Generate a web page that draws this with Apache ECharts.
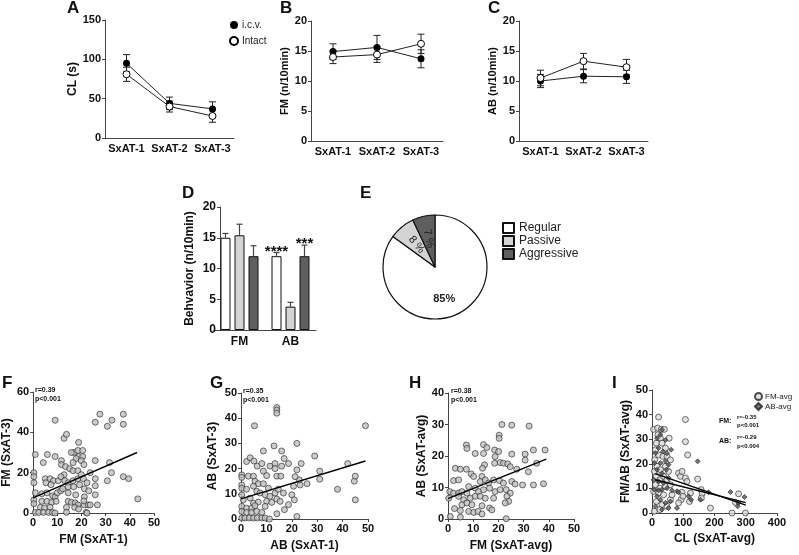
<!DOCTYPE html>
<html><head><meta charset="utf-8">
<script src="https://cdn.jsdelivr.net/npm/echarts@6/dist/echarts.min.js"></script>
<style>html,body{margin:0;padding:0;background:#fff}#c{width:799px;height:555px}</style>
</head><body><div id="c"></div>
<script>
const FONT = 'Liberation Sans, Arial, sans-serif';

// ---- Panels A-C: sessions ----
const sessions = ['SxAT-1', 'SxAT-2', 'SxAT-3'];
const clIcv = [95, 44, 37];
const clIcvErr = [11, 8, 9];
const clIntact = [81, 40, 28];
const clIntactErr = [9, 7, 8];
const starsA = [[1, 57], [2, 48]];
const fmIcv = [14.9, 15.6, 13.7];
const fmIcvErr = [1.3, 2.0, 1.5];
const fmIntact = [14.0, 14.4, 16.2];
const fmIntactErr = [1.1, 1.3, 1.6];
const abIcv = [10.0, 10.8, 10.7];
const abIcvErr = [1.1, 1.1, 1.1];
const abIntact = [10.5, 13.3, 12.3];
const abIntactErr = [1.3, 1.3, 1.3];

// ---- Panel D ----
const behavCats = ['FM', 'AB'];
const regularVals = [15.0, 12.0];
const regularErr = [0.7, 0.6];
const passiveVals = [15.4, 3.8];
const passiveErr = [1.8, 0.7];
const aggressiveVals = [12.0, 12.0];
const aggressiveErr = [1.7, 1.8];
const starsD = [[1, 12.7, 0], [1, 14.0, 2]];
const starsDText = ['****', '***'];

// ---- Panel E ----
const pieNames = ['Regular', 'Passive', 'Aggressive'];
const pieValues = [85, 8, 7];

// ---- Panel F: FM SxAT-1 vs FM SxAT-3 ----
const fPoints = [[27.6,49],[37.3,49],[9.1,46],[25.7,45],[32.6,46],[30.7,43],[37.3,44],[12.8,37],[13.8,39],[18.8,35],[0.9,29],[5.9,29],[9.1,28],[11.7,26],[11.7,24],[4.2,25],[16.9,30],[18.5,31],[20.5,31],[15.8,30],[18.8,28],[20.5,28],[17.8,27],[19.9,26],[16.5,25],[25.7,26],[31.6,25],[21,24],[13.4,23],[15.1,22],[16.5,21],[18.5,21],[23.6,20],[32.4,20],[37.3,18],[39.5,17],[30.7,16],[25.7,17],[0.3,20],[0.3,18],[0.3,15],[5,17],[5.3,15],[7,17],[8.4,16],[10.4,16],[7.4,14],[12.8,19],[11.5,18],[13.1,16],[14.5,15],[16.5,16],[18.5,17],[19.9,19],[20.8,17],[22.3,15],[0.9,10],[3.6,9.5],[5.7,10],[8.1,8.5],[9.1,8],[10,10],[11.4,11],[12.2,12],[14.5,13],[16.8,13],[19.2,14],[21.2,12],[25.7,13.5],[23,11],[14.5,10],[17.6,9],[21.2,8],[25.7,9],[43.3,7],[0.3,6.5],[0.3,4.6],[3.6,5.8],[5.7,5.8],[7.7,5.3],[9.5,5.8],[14.5,5.8],[15.8,5.3],[17.4,5],[18.5,4],[21.2,4],[22.8,4],[23.6,4],[26.6,4],[3,2.8],[4.7,2.5],[7,2.8],[13.8,2.8],[17.2,2.8],[18.8,2],[0.9,0.3],[2.3,0.3],[4.3,0.3],[6.4,0.3],[8,0.3],[9,0],[13.8,0.3],[21.9,0.3],[22.3,0],[21,6]];
const fLine = [[0, 7.5], [43, 30]];

// ---- Panel G: AB SxAT-1 vs AB SxAT-3 ----
const gPoints = [[14.1,44.2],[14.1,43.2],[14.1,42],[5.3,37],[49,37],[13,29],[22,30],[8.8,27],[16,27],[29,25],[42,22],[2.2,22.8],[3.6,24.3],[5.1,23],[6.4,21],[8.2,22],[8.8,19],[11.4,21],[13.4,22],[13.4,20],[16,21],[17,24],[18.7,22],[23.7,22],[22,19.5],[31,19],[0.3,17.5],[0.3,16.5],[2.9,17],[4.9,17],[5.5,15],[10.1,17.2],[14.1,17],[15.7,17],[6.8,14],[8.8,14],[10.8,12.2],[0.3,13.5],[0.3,12.2],[2.2,11.8],[4.9,13],[6.2,11],[7.5,10.3],[9.5,9.6],[11.4,9],[13.4,10.3],[14.7,11.8],[16.7,10.3],[20,9.6],[21,7.6],[23.3,13.5],[23,15.5],[26,14],[31,15.8],[38,11.8],[44.6,15],[45,17],[45,7.6],[21.3,16.8],[20.7,13],[0.3,9.6],[0.9,7.6],[3.6,8.3],[4.9,6.3],[6.8,6.7],[10.1,7],[12.1,6.6],[14.1,7.9],[15.4,7],[9.5,5],[18.7,5.7],[17.1,3.7],[14.1,2.1],[22,1],[0.3,5],[2.2,4.3],[4.2,4.3],[5.5,5.3],[0.3,3],[2.2,2.6],[4.2,2.6],[6.2,3],[8.2,2.6],[0.3,0.4],[1.6,0.4],[3.3,0.4],[4.9,0.4],[6.4,0.4],[8.2,0.4],[9.5,0.4],[11.2,0]];
const gLine = [[0, 8], [49, 23]];

// ---- Panel H: FM avg vs AB avg ----
const hPoints = [[21.4,30],[25.3,29.8],[32.2,29.5],[20.3,26.6],[20.3,25.6],[7.3,23.5],[7.5,22.4],[14.1,23.6],[15.4,22.7],[18.5,21.9],[20.1,21.4],[38.5,21.9],[33.9,21.9],[10.8,20.8],[25.3,20.6],[30.6,20.6],[14.1,20.8],[2.9,16.1],[4.9,15.8],[7.3,15.8],[14.5,17.2],[13.7,16.1],[18.7,19.8],[20.7,17.9],[22,17.7],[23.7,17.5],[24.7,16.6],[18.5,17.7],[27.3,15.8],[30.6,18.7],[31.9,15],[35.2,17.7],[2.2,12.2],[4.2,12.4],[9.2,14.3],[10.2,13.5],[13.5,13.5],[12.8,11.9],[14.8,12.4],[16.1,11.4],[18.1,12.4],[20.4,12.2],[22,11.4],[25.3,11.9],[26.6,11.1],[29.6,10.8],[33.9,10.8],[37.9,11.2],[0.7,8.7],[2.2,8.2],[4.2,8.2],[5.5,8.7],[7.5,8.2],[8.2,10.3],[10.8,9.8],[12.1,8.7],[14.1,9.3],[16.5,9.8],[18.7,8.7],[20.7,9.3],[23.1,9.3],[24.7,8.2],[0.3,6.6],[4.2,7.2],[6.2,6.1],[8.8,6.6],[10.8,7.2],[12.8,7.2],[14.8,6.6],[18.1,6.6],[23.4,7.2],[24.1,5.6],[22.7,5.1],[5.5,4.5],[7.5,5.1],[9.5,4.5],[13.5,4.2],[16.5,3.5],[17.4,2.9],[2.6,3.3],[4.9,2.7],[8.2,2.4],[10.2,2.1],[11.9,2.4],[13.5,1.6],[0.9,0.8],[4.9,0.6],[23.1,0.1]];
const hLine = [[0, 6.5], [39, 19]];

// ---- Panel I: CL avg vs FM/AB avg ----
const iFm = [[21,39],[5,34],[18,34.5],[30,34],[39.5,34],[107,38],[107,29],[114,23.6],[55,30.4],[19,31.8],[27,30.4],[14,28.4],[32,28.4],[43,26.4],[11,25.7],[21,23.6],[35,23],[48,23],[59,21.6],[8.5,21.6],[16,19],[27,17.6],[43,19],[53,16.9],[7.5,16.9],[85,16.2],[91,14.9],[96,16.9],[107,14.2],[112,12.8],[146,13.8],[157,9.5],[160,7.8],[158,6.1],[14,14.9],[25,13.5],[37,14.9],[48,13.5],[11,11.5],[25,10.1],[43,10.8],[59,11.5],[5,8.8],[21,8.1],[37,7.4],[96,8.4],[93,5.4],[99,6.8],[85,4.1],[14,4.7],[32,3.4],[48,2.7],[25,1.4],[7.5,0.7],[123,8.1],[120,4.7],[187,2],[277,7.8],[256,0],[299,0],[267,4.3],[59,5.4],[64,7.4]];
const iAb = [[32,33.8],[43,29.7],[16,30.4],[27,31.8],[146,21],[61,25.7],[48,24.3],[11,24.3],[21,26.4],[35,25],[7.5,20.3],[27,20.3],[43,21],[53,19.6],[16,17.6],[32,16.2],[46,17.6],[5,13.5],[21,12.8],[37,12.2],[53,14.2],[7.5,9.5],[21,9.2],[32,9.5],[48,10.1],[64,9.2],[80,8.8],[85,8.4],[117,6.8],[125,5.4],[16,6.8],[27,5.4],[43,4.1],[59,4.7],[11,2.7],[32,1.4],[53,2],[80,2],[181,8.4],[155,5.4],[251,8.5],[296,6.5],[274,2.7],[277,4.1]];
const iFmLine = [[10, 16], [300, 3.2]];
const iAbLine = [[10, 13.5], [300, 4.2]];

// ---------- helpers ----------
const axisColor = '#444';
function catX(g, cats) {
  return { type: 'category', gridIndex: g, data: cats,
    axisLine: { lineStyle: { color: axisColor, width: 1 } }, axisTick: { show: false },
    axisLabel: { interval: 0, fontFamily: FONT, fontWeight: 'bold', fontSize: 11, color: '#111', margin: 5 } };
}
function valAxis(g, min, max, interval, name, gap, nameSize, labelSize, extra) {
  return Object.assign({ type: 'value', gridIndex: g, min: min, max: max, interval: interval,
    name: name, nameLocation: 'middle', nameGap: gap,
    nameTextStyle: { fontFamily: FONT, fontWeight: 'bold', fontSize: nameSize, color: '#111' },
    axisLine: { show: true, lineStyle: { color: axisColor, width: 1 } },
    axisTick: { show: true, length: 3, lineStyle: { color: axisColor } },
    splitLine: { show: false },
    axisLabel: { fontFamily: FONT, fontWeight: 'bold', fontSize: labelSize, color: '#111', margin: 4 } }, extra || {});
}
function errData(v, e) { return v.map((x, i) => [i, x - e[i], x + e[i]]); }
function errSeries(g, v, e, cap) {
  return { type: 'custom', xAxisIndex: g, yAxisIndex: g, data: errData(v, e), encode: { x: 0, y: [1, 2] }, z: 2,
    renderItem: function (params, api) {
      const x = api.value(0);
      const lo = api.coord([x, api.value(1)]);
      const hi = api.coord([x, api.value(2)]);
      const st = { stroke: '#222', lineWidth: 1 };
      return { type: 'group', children: [
        { type: 'line', shape: { x1: lo[0], y1: lo[1], x2: hi[0], y2: hi[1] }, style: st },
        { type: 'line', shape: { x1: hi[0] - cap, y1: hi[1], x2: hi[0] + cap, y2: hi[1] }, style: st },
        { type: 'line', shape: { x1: lo[0] - cap, y1: lo[1], x2: lo[0] + cap, y2: lo[1] }, style: st }
      ] };
    } };
}
function lineSeries(g, name, v, filled) {
  return { type: 'line', name: name, xAxisIndex: g, yAxisIndex: g, data: v, symbol: 'circle', symbolSize: 7, z: 3,
    itemStyle: filled ? { color: '#000' } : { color: '#fff', borderColor: '#000', borderWidth: 1 },
    lineStyle: { color: '#222', width: 1 } };
}
const BAR_STEP = 14;
function barErrSeries(v, e, idx) {
  return { type: 'custom', xAxisIndex: 3, yAxisIndex: 3, data: v.map((x, i) => [i, x, x + e[i]]), encode: { x: 0, y: [1, 2] }, z: 1,
    renderItem: function (params, api) {
      const x = api.value(0);
      const lo = api.coord([x, api.value(1)]);
      const hi = api.coord([x, api.value(2)]);
      const dx = (idx - 1) * BAR_STEP;
      const st = { stroke: '#444', lineWidth: 1.2 };
      return { type: 'group', children: [
        { type: 'line', shape: { x1: lo[0] + dx, y1: lo[1], x2: hi[0] + dx, y2: hi[1] }, style: st },
        { type: 'line', shape: { x1: hi[0] + dx - 3, y1: hi[1], x2: hi[0] + dx + 3, y2: hi[1] }, style: st }
      ] };
    } };
}
function scatterSeries(g, name, pts, symbol, color, size) {
  return { type: 'scatter', name: name, xAxisIndex: g, yAxisIndex: g, data: pts, symbol: symbol, symbolSize: size,
    itemStyle: { color: color, borderColor: '#222', borderWidth: 0.8 }, z: 2 };
}
function regLine(g, pts) {
  return { type: 'line', xAxisIndex: g, yAxisIndex: g, data: pts, symbol: 'none', lineStyle: { color: '#000', width: 1.4 }, z: 4, silent: true };
}
function txt(left, top, text, size, weight) {
  return { type: 'text', left: left, top: top, style: { text: text, font: (weight || 'bold') + ' ' + size + 'px ' + FONT, fill: '#111' } };
}

const chart = echarts.init(document.getElementById('c'), null, { renderer: 'canvas' });
const barColors = ['#ffffff', '#d4d4d4', '#5f5f5f'];

const option = {
  animation: false,
  backgroundColor: '#fff',
  grid: [
    { left: 105, top: 20, width: 129, height: 118 },
    { left: 311, top: 21, width: 132, height: 120 },
    { left: 519, top: 21, width: 129, height: 120 },
    { left: 214, top: 207, width: 102, height: 123 },
    { left: 31, top: 392, width: 123, height: 121 },
    { left: 241, top: 393, width: 127, height: 126 },
    { left: 448, top: 393, width: 126, height: 126 },
    { left: 652, top: 390, width: 125, height: 123 }
  ],
  xAxis: [
    catX(0, sessions), catX(1, sessions), catX(2, sessions),
    Object.assign(catX(3, behavCats), { axisLabel: { interval: 0, fontFamily: FONT, fontWeight: 'bold', fontSize: 12, color: '#111', margin: 6 } }),
    valAxis(4, 0, 50, 10, 'FM (SxAT-1)', 21, 12, 11),
    valAxis(5, 0, 50, 10, 'AB (SxAT-1)', 21, 12, 11),
    valAxis(6, 0, 50, 10, 'FM (SxAT-avg)', 21, 12, 11),
    valAxis(7, 0, 400, 100, 'CL (SxAT-avg)', 20, 12, 11)
  ],
  yAxis: [
    valAxis(0, 0, 150, 50, 'CL (s)', 18, 12, 11),
    valAxis(1, 0, 20, 5, 'FM (n/10min)', 17, 11, 11),
    valAxis(2, 0, 20, 5, 'AB (n/10min)', 17, 11, 11),
    valAxis(3, 0, 20, 5, 'Behvavior (n/10min)', 24, 12, 12, { offset: -6 }),
    valAxis(4, 0, 60, 20, 'FM (SxAT-3)', 19, 12, 11),
    valAxis(5, 0, 50, 10, 'AB (SxAT-3)', 22, 12, 11),
    valAxis(6, 0, 40, 10, 'AB (SxAT-avg)', 20, 12, 11),
    valAxis(7, 0, 50, 10, 'FM/AB (SxAT-avg)', 15, 12, 11)
  ],
  legend: [
    { left: 224, top: 15, orient: 'vertical', itemWidth: 8, itemHeight: 8, itemGap: 6, selectedMode: false,
      data: [{ name: 'i.c.v.', icon: 'circle' }, { name: 'Intact', icon: 'circle' }],
      textStyle: { fontFamily: FONT, fontSize: 10, color: '#222', padding: [0, 0, 0, -1] } },
    { left: 497, top: 217, orient: 'vertical', itemWidth: 11, itemHeight: 10, itemGap: 1, selectedMode: false,
      data: pieNames.map(n => ({ name: n, icon: 'rect' })),
      textStyle: { fontFamily: FONT, fontSize: 12, color: '#222', lineHeight: 11 } },
    { left: 749, top: 387, orient: 'vertical', itemWidth: 7, itemHeight: 7, itemGap: 1, itemStyle: {}, selectedMode: false,
      data: [{ name: 'FM-avg', icon: 'circle' }, { name: 'AB-avg', icon: 'diamond' }],
      textStyle: { fontFamily: FONT, fontSize: 8, color: '#222', lineHeight: 9, padding: [0, 0, 0, -2] } }
  ],
  series: [
    // A
    errSeries(0, clIcv, clIcvErr, 3.5), errSeries(0, clIntact, clIntactErr, 3.5),
    lineSeries(0, 'i.c.v.', clIcv, true), lineSeries(0, 'Intact', clIntact, false),
    { type: 'scatter', xAxisIndex: 0, yAxisIndex: 0, data: starsA, symbolSize: 1, itemStyle: { opacity: 0 }, silent: true,
      label: { show: true, position: 'inside', formatter: '***', fontFamily: FONT, fontWeight: 'bold', fontSize: 15, color: '#111' } },
    // B
    errSeries(1, fmIcv, fmIcvErr, 3.5), errSeries(1, fmIntact, fmIntactErr, 3.5),
    lineSeries(1, 'icvFM', fmIcv, true), lineSeries(1, 'intactFM', fmIntact, false),
    // C
    errSeries(2, abIcv, abIcvErr, 3.5), errSeries(2, abIntact, abIntactErr, 3.5),
    lineSeries(2, 'icvAB', abIcv, true), lineSeries(2, 'intactAB', abIntact, false),
    // D
    barErrSeries(regularVals, regularErr, 0), barErrSeries(passiveVals, passiveErr, 1), barErrSeries(aggressiveVals, aggressiveErr, 2),
    { type: 'bar', name: 'barRegular', xAxisIndex: 3, yAxisIndex: 3, data: regularVals, barWidth: 10, barGap: '40%', z: 2,
      itemStyle: { color: barColors[0], borderColor: '#111', borderWidth: 1 } },
    { type: 'bar', name: 'barPassive', xAxisIndex: 3, yAxisIndex: 3, data: passiveVals, barWidth: 10, barGap: '40%', z: 2,
      itemStyle: { color: barColors[1], borderColor: '#111', borderWidth: 1 } },
    { type: 'bar', name: 'barAggressive', xAxisIndex: 3, yAxisIndex: 3, data: aggressiveVals, barWidth: 10, barGap: '40%', z: 2,
      itemStyle: { color: barColors[2], borderColor: '#111', borderWidth: 1 } },
    { type: 'custom', xAxisIndex: 3, yAxisIndex: 3, data: starsD, encode: { x: 0, y: 1 }, z: 5, silent: true,
      renderItem: function (params, api) {
        const p = api.coord([api.value(0), api.value(1)]);
        const dx = (api.value(2) - 1) * BAR_STEP;
        return { type: 'text', x: p[0] + dx, y: p[1],
          style: { text: starsDText[params.dataIndex], font: 'bold 15px ' + FONT, fill: '#111', align: 'center', verticalAlign: 'middle' } };
      } },
    // E
    { type: 'pie', center: [435, 267], radius: 52, startAngle: 90, clockwise: true,
      itemStyle: { borderColor: '#111', borderWidth: 1.2 },
      label: { show: true, position: 'inside', fontFamily: FONT, fontSize: 11, color: '#222' },
      labelLine: { show: false },
      labelLayout: function (params) { return params.dataIndex === 0 ? { dy: 6, dx: -4 } : {}; },
      data: pieNames.map((n, i) => ({ name: n, value: pieValues[i],
        itemStyle: { color: barColors[i] },
        label: i === 0 ? { formatter: '{c}%', rotate: 0, fontWeight: 'bold' } : { formatter: '{c} %', rotate: 'radial' } })) },
    // F
    scatterSeries(4, 'fPts', fPoints, 'circle', '#bfbfbf', 6), regLine(4, fLine),
    // G
    scatterSeries(5, 'gPts', gPoints, 'circle', '#bfbfbf', 6), regLine(5, gLine),
    // H
    scatterSeries(6, 'hPts', hPoints, 'circle', '#bfbfbf', 6), regLine(6, hLine),
    // I
    scatterSeries(7, 'FM-avg', iFm, 'circle', '#d9d9d9', 6), scatterSeries(7, 'AB-avg', iAb, 'diamond', '#555555', 5),
    regLine(7, iFmLine), regLine(7, iAbLine)
  ],
  graphic: [
    txt(67, 0, 'A', 17), txt(280, 0, 'B', 17), txt(488, 0, 'C', 17),
    txt(182, 185, 'D', 17), txt(360, 185, 'E', 17),
    txt(2, 375, 'F', 17), txt(210, 375, 'G', 17), txt(409, 375, 'H', 17), txt(612, 375, 'I', 17),
    txt(35, 387, 'r=0.39', 7), txt(35, 396, 'p<0.001', 7),
    txt(243, 388, 'r=0.35', 7), txt(243, 397, 'p<0.001', 7),
    txt(451, 388, 'r=0.38', 7), txt(451, 397, 'p<0.001', 7),
    txt(719, 418, 'FM:', 7), txt(737, 414, 'r=-0.35', 6), txt(737, 422, 'p<0.001', 6),
    txt(719, 438, 'AB:', 7), txt(737, 434, 'r=-0.29', 6), txt(737, 443, 'p<0.004', 6)
  ]
};
chart.setOption(option);
</script></body></html>
